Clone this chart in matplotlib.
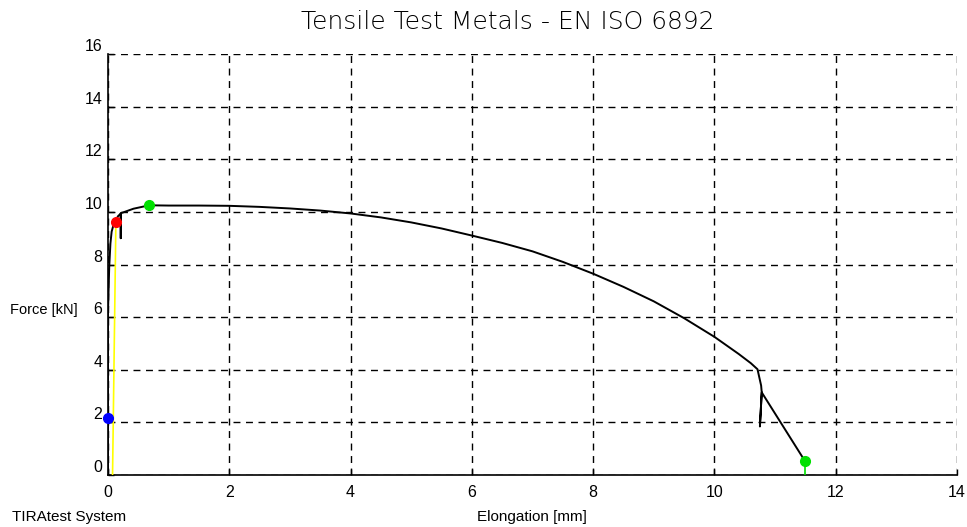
import matplotlib
matplotlib.use("Agg")
import matplotlib.pyplot as plt

plt.rcParams['font.family'] = ['Liberation Sans', 'DejaVu Sans']

# Main force-elongation curve (black)
elong = [0.0, 0.0, 0.0, 0.02, 0.04, 0.06, 0.09, 0.13, 0.17, 0.21, 0.21, 0.21,
         0.25, 0.42, 0.68, 1.0, 1.5, 2.0, 2.5, 3.0, 3.5, 4.0, 4.5, 5.0, 5.5, 6.0,
         6.5, 7.0, 7.5, 8.0, 8.5, 9.0, 9.5, 10.0, 10.4, 10.6, 10.71, 10.77, 10.78,
         10.75, 10.78, 11.49]
force = [0.0, 3.1, 6.2, 7.9, 8.8, 9.25, 9.5, 9.7, 9.85, 9.93, 9.0, 9.95,
         9.98, 10.12, 10.25, 10.24, 10.24, 10.23, 10.19, 10.13, 10.05, 9.94,
         9.79, 9.6, 9.37, 9.1, 8.82, 8.5, 8.1, 7.65, 7.15, 6.6, 5.96, 5.25,
         4.6, 4.25, 4.02, 3.4, 3.14, 1.85, 3.14, 0.54]

# Yellow elastic modulus line
mod_x = [0.075, 0.13]
mod_y = [0.0, 9.6]

# Characteristic points
pt_blue = (0.0, 2.15)
pt_red = (0.127, 9.62)
pt_green_max = (0.68, 10.27)
pt_green_break = (11.49, 0.54)

xticks = [0, 2, 4, 6, 8, 10, 12, 14]
yticks = [0, 2, 4, 6, 8, 10, 12, 14, 16]

fig = plt.figure(figsize=(9.67, 5.27), dpi=100)
ax = fig.add_axes([108/967, (527-475)/527, (957-108)/967, (475-54)/527])

ax.plot(mod_x, mod_y, color='#ffff00', lw=1.2, zorder=3)
ax.plot(elong, force, color='black', lw=1.4, zorder=4, solid_joinstyle='round')
ax.plot([pt_green_break[0], pt_green_break[0]], [0, pt_green_break[1]],
        color='#00e000', lw=1.2, zorder=5)
ax.plot(*pt_blue, 'o', color='#0000ff', ms=7, zorder=6, clip_on=False)
ax.plot(*pt_red, 'o', color='#ff0000', ms=7, zorder=6, clip_on=False)
ax.plot(*pt_green_max, 'o', color='#00e000', ms=7, zorder=6, clip_on=False)
ax.plot(*pt_green_break, 'o', color='#00e000', ms=7, zorder=6, clip_on=False)

ax.set_xlim(0, 14)
ax.set_ylim(0, 16)
ax.set_xticks(xticks)
ax.set_yticks(yticks)
ax.set_xticklabels([str(v) for v in xticks])
ax.set_yticklabels([str(v) for v in yticks])

ax.grid(True, color='black', linestyle=(0, (5, 4)), lw=1.0)
for s in ['top', 'right']:
    ax.spines[s].set_visible(False)
for s in ['left', 'bottom']:
    ax.spines[s].set_linewidth(1.2)

ax.tick_params(direction='in', length=4, width=1, labelsize=11.5)
ax.tick_params(axis='y', pad=4)
ax.tick_params(axis='x', pad=7)
for lbl in ax.get_yticklabels():
    lbl.set_verticalalignment('bottom')

fig.text(508/967, 1 - 22/527, 'Tensile Test Metals - EN ISO 6892', ha='center',
         va='center', fontsize=18, family=['DejaVu Sans'], fontweight='light')
fig.text(10/967, 1 - 310/527, 'Force [kN]', ha='left', va='center', fontsize=10.5)
fig.text(532/967, 1 - 517/527, 'Elongation [mm]', ha='center', va='center', fontsize=11)
fig.text(12/967, 1 - 517/527, 'TIRAtest System', ha='left', va='center', fontsize=11)

fig.savefig('out.png', dpi=100)
